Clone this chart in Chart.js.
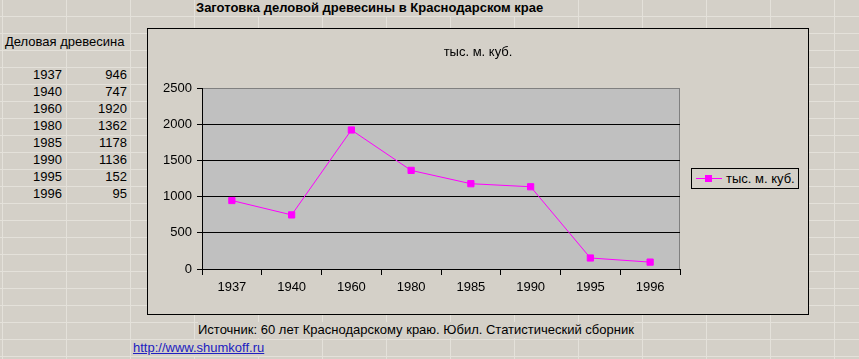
<!DOCTYPE html>
<html>
<head>
<meta charset="utf-8">
<title>Заготовка деловой древесины</title>
<script src="https://cdn.jsdelivr.net/npm/chart.js@4"></script>
<style>
    html, body { margin: 0; }
    body {
        width: 859px; height: 359px; overflow: hidden; position: relative;
        background-color: #d4d0c8;
        background-image: linear-gradient(to right, #e4e1da 1px, transparent 1px),
                          linear-gradient(to bottom, #e4e1da 1px, transparent 1px);
        background-size: 64px 17px;
        background-position: 2px 16px;
        font-family: Arial, "Liberation Sans", sans-serif; font-size: 13px; color: #000;
    }
    .t { position: absolute; height: 16px; line-height: 16px; white-space: nowrap; background: #d4d0c8; }
    .num { position: absolute; height: 16px; line-height: 16px; width: 60px; text-align: right; }
    #caja { position: absolute; left: 147px; top: 28px; width: 662px; height: 287px; box-sizing: border-box;
            border: 1px solid #000; background: #d4d0c8; }
    #titulo { position: absolute; left: 0; top: 15px; width: 660px; text-align: center; line-height: 16px; }
    #leyenda { position: absolute; left: 691px; top: 168px; width: 108px; height: 21px; box-sizing: border-box;
               border: 1px solid #000; background: #d4d0c8; }
    #leyenda .linea { position: absolute; left: 4px; top: 9px; width: 26px; height: 1px; background: #ff00ff; }
    #leyenda .marca { position: absolute; left: 13px; top: 6px; width: 7px; height: 7px; background: #ff00ff; }
    #leyenda .txt { position: absolute; left: 34px; top: 1px; line-height: 17px; }
    a { color: #2020c0; }
</style>
</head>
<body>

<div class="t" style="left:196px; top:0px; font-weight:bold; padding-right:2px">Заготовка деловой древесины в Краснодарском крае</div>
<div class="t" style="left:5px; top:34px">Деловая древесина</div>
<div id="tabla"></div>

<div id="caja"><canvas id="myChart" width="660" height="285"></canvas><div id="titulo"></div></div>
<div id="leyenda"><div class="linea"></div><div class="marca"></div><div class="txt" id="leyendaTxt"></div></div>

<div class="t" style="left:198px; top:322px">Источник: 60 лет Краснодарскому краю. Юбил. Статистический сборник</div>
<div class="t" style="left:133px; top:340px"><a href="#">http://www.shumkoff.ru</a></div>

<script>
const anos = ['1937', '1940', '1960', '1980', '1985', '1990', '1995', '1996']
const valores = [946, 747, 1920, 1362, 1178, 1136, 152, 95]
const ticksY = [0, 500, 1000, 1500, 2000, 2500]
const serie = 'тыс. м. куб.'

// tabla de la hoja
let body = ''
for (var i = 0; i < anos.length; i++) {
    let top = 67 + i * 17
    body += `<div class="num" style="left:2px; top:${top}px">${anos[i]}</div>`
    body += `<div class="num" style="left:67px; top:${top}px">${valores[i]}</div>`
}
document.getElementById('tabla').innerHTML = body
document.getElementById('leyendaTxt').textContent = serie
document.getElementById('titulo').textContent = serie

const fondoPlot = {
    id: 'fondoPlot',
    beforeDraw(chart) {
        const { ctx, chartArea: a } = chart
        ctx.save()
        ctx.fillStyle = '#c0c0c0'
        ctx.fillRect(a.left, a.top, a.right - a.left, a.bottom - a.top)
        ctx.strokeStyle = '#808080'
        ctx.lineWidth = 1
        ctx.beginPath()
        ctx.moveTo(a.right - 0.5, a.top)
        ctx.lineTo(a.right - 0.5, a.bottom)
        ctx.stroke()
        ctx.restore()
    }
}

Chart.defaults.font.family = 'Arial, "Liberation Sans", sans-serif'
Chart.defaults.font.size = 13
Chart.defaults.color = '#000'

var ctx = document.getElementById('myChart')
var myChart = new Chart(ctx, {
    type: 'line',
    data: {
        labels: anos,
        datasets: [{
            label: serie,
            data: valores,
            borderColor: '#ff00ff',
            backgroundColor: '#ff00ff',
            borderWidth: 1,
            pointStyle: 'rect',
            pointRadius: 4.4,
            pointBorderWidth: 1,
            tension: 0
        }]
    },
    options: {
        responsive: false,
        animation: false,
        layout: { padding: { left: 0, right: 128, top: 59, bottom: 0 } },
        plugins: {
            legend: { display: false },
            tooltip: { enabled: false },
            title: { display: false }
        },
        scales: {
            x: {
                offset: true,
                grid: { offset: true, drawOnChartArea: false, drawTicks: true, tickLength: 6, color: '#000' },
                border: { color: '#000', width: 1 },
                ticks: { padding: 5, color: '#000', maxRotation: 0 },
                afterFit: (s) => { s.height = 45 }
            },
            y: {
                min: ticksY[0],
                max: ticksY[ticksY.length - 1],
                grid: {
                    color: (c) => c.tick && c.tick.value === ticksY[ticksY.length - 1] ? '#808080' : '#000',
                    tickColor: '#000',
                    tickLength: 5
                },
                border: { color: '#000', width: 1 },
                ticks: { stepSize: ticksY[1] - ticksY[0], padding: 5, color: '#000', callback: (v) => String(v) },
                afterFit: (s) => { s.width = 54 }
            }
        }
    },
    plugins: [fondoPlot]
})
</script>
</body>
</html>
